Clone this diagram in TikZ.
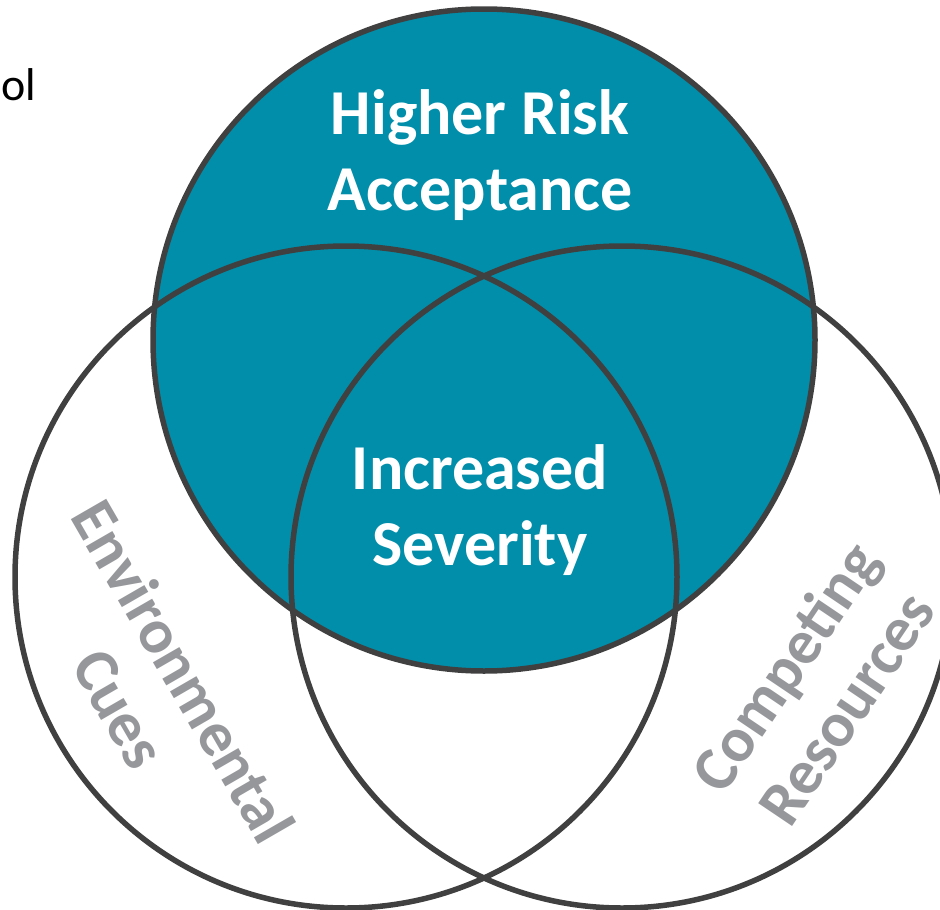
\documentclass[tikz,border=0pt]{standalone}
\usepackage{fontspec}
\setmainfont{Carlito}
\definecolor{teal}{RGB}{0,142,170}
\definecolor{ring}{RGB}{64,64,64}
\definecolor{lbl}{RGB}{150,151,154}
\begin{document}
\begin{tikzpicture}[x=1pt,y=-1pt,
  ringline/.style={draw=ring,line width=5.5pt},
  whitelbl/.style={text=white,font=\fontsize{64}{76}\selectfont\bfseries,align=center},
  graylbl/.style={text=lbl,font=\fontsize{63}{74}\selectfont\bfseries,align=center}]
\useasboundingbox (0,0) rectangle (940,910);
\coordinate (ct) at (484,340);
\coordinate (cl) at (346,577);
\coordinate (cr) at (622,577);
\fill[teal] (ct) circle[radius=331];
\draw[ringline] (ct) circle[radius=331];
\draw[ringline] (cl) circle[radius=331];
\draw[ringline] (cr) circle[radius=331];
\node[whitelbl] (hra) at (480,155) {Higher Risk\\Acceptance};
\node[whitelbl] (inc) at (480,510) {Increased\\Severity};
\node[graylbl,rotate=-60] (env) at (152,690) {Environmental\\Cues};
\node[graylbl,rotate=56] (comp) at (815,687) {Competing\\Resources};
\node[anchor=base west,inner sep=0pt,font=\fontsize{46}{54}\selectfont] (ol) at (1,100) {ol};
\end{tikzpicture}
\end{document}
